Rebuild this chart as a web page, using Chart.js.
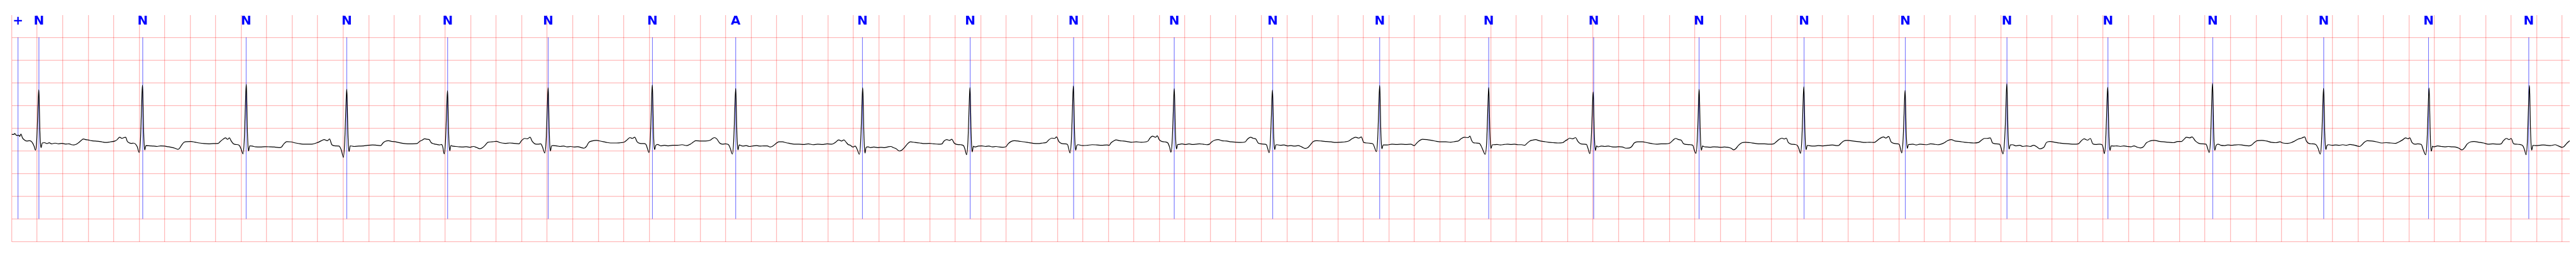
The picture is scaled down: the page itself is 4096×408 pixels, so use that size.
<!DOCTYPE html>
<html>
<head>
<meta charset="utf-8">
<title>ECG strip</title>
<script src="https://cdn.jsdelivr.net/npm/chart.js@4.4.1/dist/chart.umd.min.js"></script>
<style>
    html, body { margin: 0; padding: 0; background: #ffffff; }
    canvas { display: block; }
</style>
</head>
<body>
<canvas id="ecgStrip" width="4096" height="408"></canvas>
<script>
// beat annotations: time in seconds and symbol
const annTime = [0.050, 0.214, 1.028, 1.839, 2.628, 3.419, 4.208, 5.025, 5.678, 6.672, 7.517, 8.328, 9.117,
    9.889, 10.728, 11.583, 12.406, 13.233, 14.056, 14.850, 15.647, 16.439, 17.261, 18.131, 18.953, 19.739];
const annSymbol = ['+', 'N', 'N', 'N', 'N', 'N', 'N', 'N', 'A', 'N', 'N', 'N', 'N',
    'N', 'N', 'N', 'N', 'N', 'N', 'N', 'N', 'N', 'N', 'N', 'N', 'N'];

// ECG trace, [seconds, mV]
const ecgTrace = [
    [0.000,-0.139],[0.019,-0.139],[0.023,-0.119],[0.041,-0.164],[0.056,-0.154],[0.063,-0.184],[0.073,-0.131],[0.085,-0.215],[0.102,-0.265],[0.120,-0.285],[0.139,-0.278],[0.153,-0.290],[0.166,-0.336],[0.177,-0.404],
    [0.187,-0.487],[0.197,-0.25],[0.204,0.25],[0.209,0.65],[0.213,0.846],[0.216,0.65],[0.221,0.0],[0.226,-0.33],[0.231,-0.43],[0.240,-0.328],
    [0.258,-0.321],[0.277,-0.341],[0.295,-0.323],[0.313,-0.346],[0.341,-0.331],[0.369,-0.346],[0.396,-0.336],[0.424,-0.351],[0.451,-0.346],[0.470,-0.366],[0.488,-0.371],[0.507,-0.356],[0.525,-0.321],[0.543,-0.278],[0.562,-0.240],[0.580,-0.253],[0.599,-0.260],[0.626,-0.278],[0.654,-0.285],[0.681,-0.290],[0.709,-0.303],[0.737,-0.316],[0.773,-0.303],[0.810,-0.285],[0.828,-0.253],[0.847,-0.202],[0.865,-0.227],[0.880,-0.210],[0.895,-0.202],[0.906,-0.285],[0.920,-0.321],[0.939,-0.336],[0.957,-0.331],[0.972,-0.354],[0.985,-0.412],
    [1.000,-0.538],[1.010,-0.28],[1.017,0.3],[1.022,0.75],[1.026,0.947],[1.029,0.75],[1.034,0.05],[1.039,-0.35],[1.044,-0.48],[1.053,-0.386],
    [1.086,-0.391],[1.114,-0.396],[1.141,-0.404],[1.169,-0.391],[1.197,-0.396],[1.224,-0.409],[1.252,-0.424],[1.279,-0.442],[1.303,-0.467],[1.316,-0.447],[1.334,-0.371],[1.353,-0.311],[1.380,-0.298],[1.408,-0.295],[1.436,-0.308],[1.472,-0.328],[1.509,-0.341],[1.546,-0.346],[1.583,-0.341],[1.620,-0.336],[1.638,-0.290],[1.660,-0.240],[1.678,-0.215],[1.693,-0.247],[1.708,-0.215],[1.722,-0.285],[1.739,-0.346],[1.757,-0.361],[1.776,-0.366],[1.789,-0.396],[1.803,-0.487],
    [1.814,-0.568],[1.824,-0.28],[1.831,0.3],[1.836,0.77],[1.840,0.967],[1.843,0.77],[1.848,0.05],[1.853,-0.37],[1.858,-0.505],[1.867,-0.39],
    [1.886,-0.396],[1.914,-0.412],[1.951,-0.417],[1.987,-0.409],[2.024,-0.412],[2.061,-0.417],[2.098,-0.429],[2.116,-0.417],[2.135,-0.346],[2.157,-0.298],[2.190,-0.303],[2.227,-0.328],[2.264,-0.346],[2.300,-0.354],[2.355,-0.354],[2.401,-0.316],[2.429,-0.278],[2.451,-0.253],[2.475,-0.278],[2.493,-0.240],[2.511,-0.366],[2.539,-0.391],[2.567,-0.396],[2.585,-0.480],
    [2.602,-0.644],[2.612,-0.30],[2.619,0.25],[2.624,0.68],[2.628,0.859],[2.631,0.68],[2.636,0.0],[2.641,-0.38],[2.646,-0.518],[2.655,-0.39],
    [2.686,-0.404],[2.723,-0.396],[2.760,-0.391],[2.793,-0.379],[2.830,-0.371],[2.866,-0.379],[2.894,-0.386],[2.912,-0.328],[2.931,-0.290],[2.955,-0.278],[2.977,-0.290],[3.004,-0.298],[3.032,-0.316],[3.069,-0.336],[3.106,-0.346],[3.142,-0.346],[3.179,-0.341],[3.201,-0.290],[3.220,-0.265],[3.238,-0.235],[3.256,-0.245],[3.275,-0.253],[3.290,-0.321],[3.312,-0.346],[3.335,-0.361],[3.354,-0.371],[3.372,-0.361],[3.381,-0.417],
    [3.392,-0.568],[3.402,-0.30],[3.409,0.22],[3.414,0.63],[3.418,0.826],[3.421,0.63],[3.426,0.0],[3.431,-0.37],[3.436,-0.50],[3.445,-0.38],
    [3.455,-0.396],[3.483,-0.404],[3.510,-0.412],[3.538,-0.417],[3.565,-0.409],[3.593,-0.422],[3.621,-0.404],[3.648,-0.429],[3.672,-0.455],[3.694,-0.429],[3.713,-0.379],[3.735,-0.311],[3.768,-0.303],[3.801,-0.290],[3.832,-0.321],[3.869,-0.336],[3.906,-0.328],[3.942,-0.336],[3.979,-0.346],[3.998,-0.278],[4.022,-0.227],[4.044,-0.235],[4.066,-0.202],[4.081,-0.285],[4.103,-0.346],[4.126,-0.354],[4.150,-0.346],[4.163,-0.417],
    [4.181,-0.548],[4.191,-0.28],[4.198,0.25],[4.203,0.70],[4.207,0.891],[4.210,0.70],[4.215,0.02],[4.220,-0.37],[4.225,-0.505],[4.234,-0.39],
    [4.246,-0.386],[4.274,-0.391],[4.301,-0.404],[4.329,-0.396],[4.356,-0.412],[4.384,-0.404],[4.412,-0.417],[4.439,-0.409],[4.467,-0.429],[4.489,-0.442],[4.507,-0.404],[4.526,-0.316],[4.550,-0.285],[4.586,-0.270],[4.623,-0.290],[4.660,-0.311],[4.697,-0.328],[4.743,-0.328],[4.779,-0.321],[4.807,-0.303],[4.826,-0.260],[4.849,-0.210],[4.868,-0.227],[4.886,-0.202],[4.905,-0.303],[4.927,-0.336],[4.954,-0.341],[4.973,-0.354],[4.985,-0.442],
    [4.998,-0.538],[5.008,-0.27],[5.015,0.3],[5.020,0.76],[5.024,0.952],[5.027,0.76],[5.032,0.05],[5.037,-0.35],[5.042,-0.472],[5.051,-0.38],
    [5.065,-0.361],[5.092,-0.391],[5.120,-0.379],[5.147,-0.391],[5.184,-0.379],[5.221,-0.379],[5.258,-0.366],[5.294,-0.386],[5.322,-0.354],[5.341,-0.316],[5.364,-0.278],[5.405,-0.285],[5.442,-0.285],[5.479,-0.265],[5.497,-0.227],[5.512,-0.210],[5.530,-0.240],[5.552,-0.328],[5.574,-0.354],[5.598,-0.346],[5.622,-0.366],[5.635,-0.442],
    [5.652,-0.572],[5.662,-0.29],[5.669,0.25],[5.674,0.69],[5.678,0.876],[5.681,0.69],[5.686,0.02],[5.691,-0.36],[5.696,-0.48],[5.705,-0.372],
    [5.732,-0.396],[5.760,-0.386],[5.787,-0.404],[5.815,-0.391],[5.843,-0.386],[5.870,-0.396],[5.898,-0.391],[5.925,-0.391],[5.949,-0.417],[5.971,-0.391],[5.993,-0.341],[6.017,-0.303],[6.045,-0.303],[6.072,-0.321],[6.100,-0.336],[6.137,-0.354],[6.174,-0.354],[6.210,-0.361],[6.247,-0.346],[6.284,-0.366],[6.321,-0.354],[6.358,-0.361],[6.394,-0.346],[6.431,-0.354],[6.459,-0.316],[6.486,-0.260],[6.508,-0.285],[6.527,-0.260],[6.545,-0.316],[6.560,-0.361],[6.578,-0.379],[6.597,-0.417],[6.615,-0.396],[6.630,-0.462],
    [6.648,-0.576],[6.658,-0.29],[6.665,0.25],[6.670,0.70],[6.674,0.891],[6.677,0.70],[6.682,0.02],[6.687,-0.40],[6.692,-0.55],[6.701,-0.42],
    [6.716,-0.412],[6.735,-0.429],[6.762,-0.417],[6.790,-0.429],[6.817,-0.424],[6.845,-0.429],[6.873,-0.412],[6.895,-0.404],[6.913,-0.429],[6.937,-0.455],[6.961,-0.505],[6.983,-0.480],[7.001,-0.429],[7.023,-0.354],[7.047,-0.303],[7.084,-0.316],[7.121,-0.328],[7.158,-0.341],[7.195,-0.336],[7.231,-0.346],[7.268,-0.354],[7.296,-0.346],[7.310,-0.290],[7.333,-0.253],[7.355,-0.270],[7.373,-0.245],[7.391,-0.328],[7.415,-0.361],[7.443,-0.366],[7.465,-0.386],[7.476,-0.467],
    [7.489,-0.586],[7.499,-0.30],[7.506,0.25],[7.511,0.70],[7.515,0.896],[7.518,0.70],[7.523,0.02],[7.528,-0.39],[7.533,-0.525],[7.542,-0.40],
    [7.553,-0.417],[7.581,-0.396],[7.608,-0.391],[7.636,-0.404],[7.664,-0.396],[7.691,-0.412],[7.719,-0.404],[7.746,-0.417],[7.774,-0.422],[7.796,-0.412],[7.814,-0.346],[7.838,-0.295],[7.866,-0.278],[7.903,-0.290],[7.940,-0.303],[7.976,-0.321],[8.013,-0.336],[8.050,-0.341],[8.087,-0.328],[8.114,-0.316],[8.133,-0.260],[8.157,-0.220],[8.179,-0.227],[8.194,-0.194],[8.212,-0.295],[8.234,-0.341],[8.261,-0.346],[8.280,-0.361],[8.289,-0.447],
    [8.300,-0.548],[8.310,-0.27],[8.317,0.28],[8.322,0.74],[8.326,0.932],[8.329,0.74],[8.334,0.04],[8.339,-0.36],[8.344,-0.487],[8.353,-0.38],
    [8.363,-0.366],[8.399,-0.386],[8.436,-0.379],[8.473,-0.366],[8.510,-0.371],[8.547,-0.379],[8.589,-0.371],[8.607,-0.379],[8.620,-0.328],[8.644,-0.278],[8.662,-0.260],[8.690,-0.278],[8.718,-0.285],[8.745,-0.295],[8.782,-0.311],[8.819,-0.303],[8.856,-0.311],[8.892,-0.303],[8.911,-0.285],[8.925,-0.227],[8.947,-0.177],[8.970,-0.202],[8.984,-0.169],[8.999,-0.253],[9.021,-0.295],[9.043,-0.303],[9.067,-0.328],[9.080,-0.417],
    [9.091,-0.530],[9.101,-0.27],[9.108,0.25],[9.113,0.68],[9.117,0.871],[9.120,0.68],[9.125,0.02],[9.130,-0.34],[9.135,-0.46],[9.144,-0.36],
    [9.150,-0.361],[9.177,-0.346],[9.205,-0.361],[9.233,-0.346],[9.260,-0.361],[9.288,-0.354],[9.315,-0.346],[9.343,-0.354],[9.371,-0.366],[9.393,-0.354],[9.411,-0.303],[9.435,-0.265],[9.462,-0.253],[9.490,-0.278],[9.527,-0.285],[9.564,-0.303],[9.600,-0.311],[9.637,-0.316],[9.674,-0.303],[9.692,-0.240],[9.716,-0.202],[9.738,-0.227],[9.757,-0.240],[9.775,-0.328],[9.797,-0.346],[9.821,-0.354],[9.840,-0.366],[9.849,-0.442],
    [9.861,-0.543],[9.871,-0.28],[9.878,0.23],[9.883,0.65],[9.887,0.841],[9.890,0.65],[9.895,0.0],[9.900,-0.35],[9.905,-0.472],[9.914,-0.37],
    [9.922,-0.366],[9.950,-0.379],[9.978,-0.371],[10.005,-0.391],[10.033,-0.386],[10.060,-0.396],[10.088,-0.386],[10.116,-0.412],[10.143,-0.447],[10.165,-0.429],[10.184,-0.371],[10.207,-0.295],[10.235,-0.278],[10.272,-0.285],[10.309,-0.295],[10.345,-0.303],[10.382,-0.316],[10.419,-0.311],[10.456,-0.303],[10.489,-0.278],[10.511,-0.235],[10.539,-0.202],[10.566,-0.220],[10.584,-0.194],[10.603,-0.316],[10.630,-0.328],[10.658,-0.336],[10.677,-0.354],[10.688,-0.429],
    [10.702,-0.518],[10.712,-0.25],[10.719,0.3],[10.724,0.75],[10.728,0.942],[10.731,0.75],[10.736,0.04],[10.741,-0.34],[10.746,-0.455],[10.755,-0.37],
    [10.787,-0.371],[10.824,-0.354],[10.860,-0.361],[10.897,-0.354],[10.934,-0.361],[10.971,-0.354],[10.999,-0.386],[11.011,-0.354],[11.035,-0.285],[11.063,-0.245],[11.099,-0.253],[11.136,-0.270],[11.173,-0.290],[11.210,-0.303],[11.247,-0.303],[11.284,-0.311],[11.320,-0.295],[11.348,-0.278],[11.366,-0.235],[11.394,-0.202],[11.421,-0.210],[11.436,-0.177],[11.448,-0.265],[11.460,-0.316],[11.482,-0.328],[11.510,-0.336],[11.523,-0.391],[11.537,-0.480],
    [11.555,-0.576],[11.567,-0.30],[11.574,0.25],[11.579,0.70],[11.583,0.896],[11.586,0.70],[11.591,0.02],[11.596,-0.33],[11.601,-0.447],[11.610,-0.37],
    [11.620,-0.366],[11.648,-0.361],[11.675,-0.371],[11.703,-0.361],[11.731,-0.354],[11.758,-0.361],[11.786,-0.354],[11.813,-0.366],[11.841,-0.366],[11.865,-0.379],[11.883,-0.336],[11.905,-0.285],[11.927,-0.265],[11.951,-0.253],[11.979,-0.278],[12.016,-0.295],[12.052,-0.311],[12.089,-0.321],[12.126,-0.328],[12.163,-0.321],[12.181,-0.285],[12.200,-0.253],[12.218,-0.220],[12.240,-0.235],[12.264,-0.210],[12.282,-0.290],[12.301,-0.341],[12.328,-0.354],[12.350,-0.361],[12.361,-0.442],
    [12.376,-0.563],[12.386,-0.29],[12.393,0.2],[12.398,0.61],[12.402,0.80],[12.405,0.61],[12.410,0.0],[12.415,-0.37],[12.420,-0.492],[12.429,-0.39],
    [12.439,-0.412],[12.466,-0.396],[12.494,-0.404],[12.521,-0.396],[12.549,-0.412],[12.577,-0.417],[12.604,-0.409],[12.632,-0.417],[12.659,-0.442],[12.687,-0.437],[12.705,-0.404],[12.724,-0.328],[12.751,-0.303],[12.788,-0.303],[12.825,-0.321],[12.862,-0.341],[12.899,-0.354],[12.935,-0.346],[12.972,-0.346],[13.005,-0.328],[13.027,-0.270],[13.049,-0.227],[13.073,-0.253],[13.092,-0.265],[13.110,-0.341],[13.138,-0.361],[13.165,-0.366],[13.184,-0.379],[13.193,-0.467],
    [13.208,-0.556],[13.218,-0.28],[13.225,0.23],[13.229,0.67],[13.233,0.859],[13.236,0.67],[13.241,0.01],[13.246,-0.37],[13.251,-0.487],[13.260,-0.39],
    [13.266,-0.404],[13.294,-0.417],[13.322,-0.422],[13.349,-0.412],[13.377,-0.417],[13.404,-0.424],[13.432,-0.417],[13.459,-0.422],[13.483,-0.442],[13.505,-0.480],[13.524,-0.442],[13.542,-0.379],[13.570,-0.321],[13.597,-0.311],[13.634,-0.321],[13.671,-0.336],[13.708,-0.346],[13.745,-0.346],[13.781,-0.354],[13.818,-0.346],[13.837,-0.303],[13.859,-0.253],[13.883,-0.220],[13.901,-0.240],[13.916,-0.220],[13.932,-0.316],[13.956,-0.354],[13.984,-0.361],[14.006,-0.391],[14.017,-0.467],
    [14.028,-0.556],[14.038,-0.28],[14.045,0.27],[14.050,0.72],[14.054,0.914],[14.057,0.72],[14.062,0.03],[14.067,-0.36],[14.072,-0.475],[14.081,-0.38],
    [14.094,-0.386],[14.131,-0.396],[14.168,-0.386],[14.205,-0.391],[14.241,-0.379],[14.278,-0.371],[14.315,-0.386],[14.329,-0.379],[14.348,-0.328],[14.366,-0.285],[14.394,-0.270],[14.421,-0.278],[14.458,-0.290],[14.495,-0.303],[14.532,-0.316],[14.569,-0.311],[14.605,-0.316],[14.627,-0.278],[14.651,-0.227],[14.679,-0.194],[14.697,-0.220],[14.719,-0.184],[14.738,-0.303],[14.762,-0.336],[14.789,-0.346],[14.804,-0.366],[14.811,-0.442],
    [14.822,-0.548],[14.832,-0.28],[14.839,0.22],[14.844,0.64],[14.848,0.833],[14.851,0.64],[14.856,0.0],[14.861,-0.33],[14.866,-0.447],[14.875,-0.36],
    [14.881,-0.361],[14.909,-0.354],[14.936,-0.371],[14.964,-0.354],[14.992,-0.361],[15.019,-0.366],[15.047,-0.346],[15.074,-0.354],[15.102,-0.366],[15.129,-0.354],[15.157,-0.321],[15.179,-0.278],[15.209,-0.253],[15.240,-0.285],[15.277,-0.295],[15.313,-0.311],[15.350,-0.321],[15.387,-0.328],[15.424,-0.316],[15.448,-0.265],[15.470,-0.227],[15.492,-0.227],[15.516,-0.215],[15.534,-0.328],[15.562,-0.346],[15.589,-0.354],[15.599,-0.417],
    [15.616,-0.568],[15.628,-0.29],[15.637,0.3],[15.642,0.78],[15.646,0.98],[15.649,0.78],[15.654,0.05],[15.659,-0.35],[15.664,-0.462],[15.673,-0.37],
    [15.690,-0.366],[15.718,-0.391],[15.746,-0.379],[15.773,-0.404],[15.801,-0.391],[15.828,-0.404],[15.856,-0.379],[15.884,-0.417],[15.902,-0.455],[15.920,-0.447],[15.939,-0.412],[15.957,-0.316],[15.985,-0.295],[16.022,-0.311],[16.059,-0.328],[16.095,-0.341],[16.132,-0.346],[16.169,-0.354],[16.206,-0.346],[16.228,-0.285],[16.252,-0.235],[16.279,-0.265],[16.301,-0.227],[16.320,-0.346],[16.343,-0.361],[16.371,-0.354],[16.393,-0.366],[16.402,-0.442],
    [16.411,-0.563],[16.421,-0.29],[16.428,0.26],[16.433,0.71],[16.437,0.902],[16.440,0.71],[16.445,0.02],[16.450,-0.37],[16.455,-0.492],[16.464,-0.39],
    [16.482,-0.396],[16.509,-0.391],[16.537,-0.404],[16.564,-0.391],[16.592,-0.404],[16.620,-0.412],[16.643,-0.391],[16.665,-0.417],[16.693,-0.437],[16.717,-0.412],[16.739,-0.328],[16.767,-0.285],[16.803,-0.270],[16.840,-0.290],[16.877,-0.303],[16.914,-0.311],[16.951,-0.321],[16.987,-0.295],[17.015,-0.295],[17.033,-0.253],[17.055,-0.202],[17.079,-0.215],[17.098,-0.194],[17.125,-0.285],[17.153,-0.336],[17.181,-0.346],[17.208,-0.354],[17.223,-0.467],
    [17.233,-0.538],[17.243,-0.27],[17.250,0.3],[17.255,0.79],[17.259,0.985],[17.262,0.79],[17.267,0.05],[17.272,-0.37],[17.277,-0.487],[17.286,-0.39],
    [17.302,-0.354],[17.324,-0.379],[17.351,-0.386],[17.379,-0.371],[17.407,-0.379],[17.434,-0.371],[17.462,-0.366],[17.489,-0.371],[17.517,-0.386],[17.545,-0.391],[17.567,-0.371],[17.585,-0.321],[17.609,-0.278],[17.646,-0.270],[17.683,-0.285],[17.719,-0.311],[17.756,-0.321],[17.788,-0.303],[17.811,-0.328],[17.848,-0.336],[17.876,-0.321],[17.903,-0.285],[17.931,-0.240],[17.958,-0.220],[17.982,-0.194],[17.995,-0.285],[18.014,-0.336],[18.041,-0.346],[18.069,-0.361],[18.087,-0.447],
    [18.104,-0.573],[18.114,-0.29],[18.121,0.25],[18.126,0.69],[18.130,0.879],[18.133,0.69],[18.138,0.02],[18.143,-0.36],[18.148,-0.472],[18.157,-0.38],
    [18.170,-0.366],[18.198,-0.379],[18.225,-0.371],[18.253,-0.379],[18.280,-0.366],[18.308,-0.379],[18.336,-0.361],[18.363,-0.371],[18.391,-0.391],[18.413,-0.404],[18.431,-0.366],[18.450,-0.311],[18.473,-0.278],[18.510,-0.285],[18.547,-0.303],[18.584,-0.328],[18.621,-0.321],[18.657,-0.328],[18.694,-0.336],[18.722,-0.303],[18.749,-0.260],[18.773,-0.215],[18.792,-0.235],[18.806,-0.215],[18.823,-0.316],[18.847,-0.354],[18.869,-0.346],[18.897,-0.361],[18.909,-0.455],
    [18.931,-0.586],[18.941,-0.30],[18.948,0.25],[18.953,0.69],[18.957,0.884],[18.960,0.69],[18.965,0.02],[18.970,-0.40],[18.975,-0.508],[18.984,-0.40],
    [18.994,-0.412],[19.025,-0.391],[19.053,-0.404],[19.080,-0.412],[19.108,-0.404],[19.136,-0.412],[19.163,-0.417],[19.191,-0.442],[19.215,-0.480],[19.237,-0.429],[19.255,-0.354],[19.283,-0.303],[19.310,-0.295],[19.347,-0.311],[19.384,-0.328],[19.421,-0.354],[19.458,-0.346],[19.494,-0.354],[19.522,-0.346],[19.540,-0.278],[19.564,-0.227],[19.586,-0.253],[19.601,-0.227],[19.619,-0.341],[19.641,-0.354],[19.669,-0.361],[19.693,-0.391],[19.706,-0.480],
    [19.718,-0.586],[19.728,-0.29],[19.735,0.3],[19.740,0.75],[19.744,0.942],[19.747,0.75],[19.752,0.04],[19.757,-0.36],[19.762,-0.487],[19.771,-0.38],
    [19.797,-0.386],[19.824,-0.379],[19.852,-0.371],[19.880,-0.379],[19.908,-0.386],[19.945,-0.366],[19.973,-0.396],[20.000,-0.422],[20.013,-0.412],[20.028,-0.366],[20.046,-0.311],[20.060,-0.278]
];

// axis range (s, mV) and grid steps
const timeRange = [0, 20.06];
const mvRange = [-2.5, 2.49];
const timeStep = 0.2;
const mvStep = 0.5;
const markerSpan = [-2.0, 2.0];

(() => {
    const gridColor = 'rgba(255, 0, 0, 0.27)';
    const markerColor = 'rgba(0, 0, 255, 0.42)';
    const labelColor = '#0000ff';

    // vertical annotation markers, broken by null points
    const markerLines = [];
    annTime.forEach((t) => {
        markerLines.push({ x: t, y: markerSpan[1] }, { x: t, y: markerSpan[0] }, { x: t, y: null });
    });

    const annLabels = {
        id: 'annLabels',
        afterDatasetsDraw(chart) {
            const { ctx, chartArea, scales } = chart;
            ctx.save();
            ctx.fillStyle = labelColor;
            ctx.font = 'bold 20px "DejaVu Sans", sans-serif';
            ctx.textAlign = 'center';
            ctx.textBaseline = 'alphabetic';
            annTime.forEach((t, i) => {
                ctx.fillText(annSymbol[i], scales.x.getPixelForValue(t), chartArea.top + 14.6);
            });
            ctx.restore();
        }
    };

    const hiddenTicks = { display: false, includeBounds: false };

    new Chart(document.getElementById('ecgStrip'), {
        type: 'line',
        data: {
            datasets: [
                {
                    label: 'MLII',
                    data: ecgTrace,
                    borderColor: '#000000',
                    borderWidth: 1.2,
                    pointRadius: 0,
                    cubicInterpolationMode: 'monotone',
                    fill: false,
                    order: 0
                },
                {
                    label: 'annotations',
                    data: markerLines,
                    borderColor: markerColor,
                    borderWidth: 0.6,
                    pointRadius: 0,
                    spanGaps: false,
                    fill: false,
                    order: 1
                }
            ]
        },
        options: {
            responsive: false,
            devicePixelRatio: 1,
            animation: false,
            events: [],
            layout: {
                padding: { left: 18.5, right: 10, top: 24, bottom: 24.5 }
            },
            plugins: {
                legend: { display: false },
                tooltip: { enabled: false }
            },
            scales: {
                x: {
                    type: 'linear',
                    min: timeRange[0],
                    max: timeRange[1],
                    ticks: { ...hiddenTicks, stepSize: timeStep },
                    grid: { color: gridColor, lineWidth: 1.3, drawTicks: false },
                    border: { display: false }
                },
                y: {
                    min: mvRange[0],
                    max: mvRange[1],
                    ticks: { ...hiddenTicks, stepSize: mvStep },
                    grid: { color: gridColor, lineWidth: 1.3, drawTicks: false },
                    border: { display: false }
                }
            }
        },
        plugins: [annLabels]
    });
})();
</script>
</body>
</html>
